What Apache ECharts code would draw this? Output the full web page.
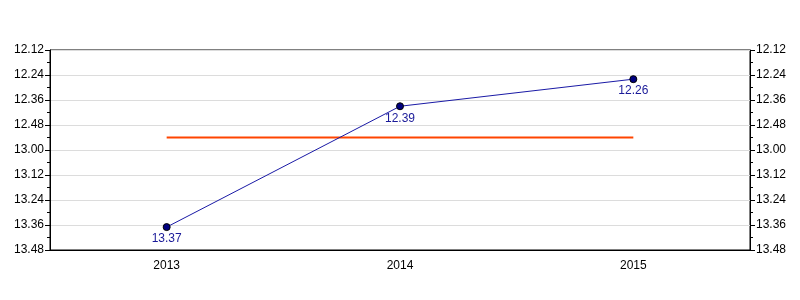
<!DOCTYPE html>
<html>
<head>
<meta charset="utf-8">
<script src="https://cdn.jsdelivr.net/npm/echarts@6/dist/echarts.min.js"></script>
<style>html,body{margin:0;padding:0;background:#fff}#c{width:800px;height:300px}</style>
</head>
<body>
<div id="c"></div>
<script>
// Data (times as minutes.seconds)
const years = ['2013', '2014', '2015'];
const times = ['13.37', '12.39', '12.26'];
const averageTime = '12.54';
const axisMin = '12.12';
const axisMax = '13.48';
const axisStepSeconds = 12;

function toSec(s) { const p = s.split('.'); return parseInt(p[0], 10) * 60 + parseInt(p[1], 10); }
function fmt(v) { const m = Math.floor(v / 60); const s = Math.round(v - m * 60); return m + '.' + (s < 10 ? '0' : '') + s; }

const timeSec = times.map(toSec);
const avgSec = years.map(() => toSec(averageTime));

const font = 'Liberation Sans, Arial, sans-serif';
function yAxis(pos) {
  return {
    type: 'value', position: pos, inverse: true,
    min: toSec(axisMin), max: toSec(axisMax), interval: axisStepSeconds,
    axisLine: { show: true, lineStyle: { color: '#000', width: 1 } },
    axisTick: { show: true, inside: false, length: 5, lineStyle: { color: '#000' } },
    minorTick: { show: true, splitNumber: 2, length: 3, lineStyle: { color: '#000' } },
    axisLabel: { formatter: fmt, color: '#000', fontFamily: font, fontSize: 12, margin: 6 },
    splitLine: { show: pos === 'left', lineStyle: { color: '#dcdcdc', width: 1 } }
  };
}

const chart = echarts.init(document.getElementById('c'), null, { renderer: 'canvas' });
chart.setOption({
  animation: false,
  backgroundColor: '#fff',
  grid: { left: 50, right: 50, top: 50, bottom: 50, show: true, borderColor: '#000', borderWidth: 1, backgroundColor: 'transparent' },
  xAxis: {
    type: 'category', data: years, boundaryGap: true,
    axisLine: { lineStyle: { color: '#000' } },
    axisTick: { alignWithLabel: true, length: 5, lineStyle: { color: '#000' } },
    axisLabel: { color: '#000', fontFamily: font, fontSize: 12, margin: 10 },
    splitLine: { show: false }
  },
  yAxis: [yAxis('left'), yAxis('right')],
  series: [
    {
      type: 'line', data: avgSec, symbol: 'none', z: 2,
      lineStyle: { color: '#ff4500', width: 2 }
    },
    {
      type: 'line', data: timeSec, z: 3,
      symbol: 'circle', symbolSize: 7,
      itemStyle: { color: '#000080', borderColor: '#000', borderWidth: 1 },
      lineStyle: { color: '#1a1aa6', width: 1 },
      label: { show: true, position: 'bottom', distance: 2, formatter: p => times[p.dataIndex], color: '#1a1a99', fontFamily: font, fontSize: 12 }
    }
  ]
});
</script>
</body>
</html>
